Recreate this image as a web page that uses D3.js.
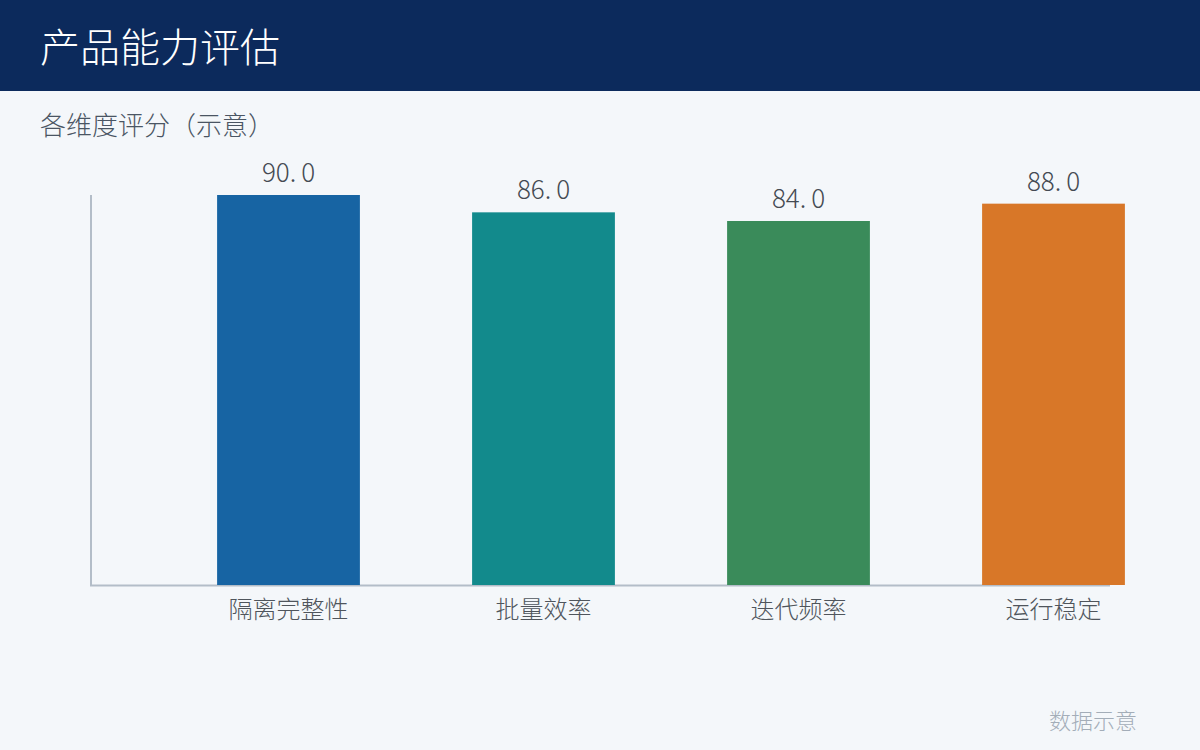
<!DOCTYPE html>
<html>
<head>
<meta charset="utf-8">
<script src="https://cdn.jsdelivr.net/npm/d3@7"></script>
<style>
  body { margin: 0; background: #f4f7fa; }
  svg { display: block; font-family: "Noto Sans CJK SC", sans-serif; font-weight: 300; }
</style>
</head>
<body>
<svg id="chart"></svg>
<script>
// data
var categories = ["隔离完整性", "批量效率", "迭代频率", "运行稳定"]
var scores = [90.0, 86.0, 84.0, 88.0]
var barColors = ["#1764a3", "#128a8c", "#3a8b5a", "#d87728"]

var width = 1200
var height = 750

var svg = d3.select("#chart")
    .attr("width", width)
    .attr("height", height)

svg.append("rect")
    .attr("width", width)
    .attr("height", height)
    .attr("fill", "#f4f7fa")

// header
svg.append("rect")
    .attr("width", width)
    .attr("height", 91)
    .attr("fill", "#0c2a5c")

svg.append("text")
    .attr("x", 40)
    .attr("y", 62)
    .attr("fill", "#ffffff")
    .attr("font-size", 40)
    .text("产品能力评估")

svg.append("text")
    .attr("x", 40)
    .attr("y", 135)
    .attr("fill", "#4a5563")
    .attr("font-size", 26)
    .text("各维度评分（示意）")

var x = d3.scaleBand()
    .domain(categories)
    .range([161, 1181])
    .paddingInner(0.44)
    .paddingOuter(0.22)

var y = d3.scaleLinear()
    .domain([0, d3.max(scores)])
    .range([585, 195])

// axes lines
svg.append("line")
    .attr("x1", 91).attr("x2", 91)
    .attr("y1", y(d3.max(scores))).attr("y2", 586)
    .attr("stroke", "#b3bdc8")
    .attr("stroke-width", 2)

svg.append("line")
    .attr("x1", 90).attr("x2", 1110)
    .attr("y1", 585.5).attr("y2", 585.5)
    .attr("stroke", "#b3bdc8")
    .attr("stroke-width", 2)

var bars = svg.append("g")
    .selectAll("rect")
    .data(scores)
    .enter()
    .append("rect")
    .attr("x", (d, i) => x(categories[i]))
    .attr("y", d => y(d))
    .attr("width", x.bandwidth())
    .attr("height", d => y(0) - y(d))
    .attr("fill", (d, i) => barColors[i])

// value labels, the "." gets a little extra room like the original
var vals = svg.append("g")
    .selectAll("text")
    .data(scores)
    .enter()
    .append("text")
    .attr("x", (d, i) => x(categories[i]) + x.bandwidth() / 2)
    .attr("y", d => y(d) - 13)
    .attr("text-anchor", "middle")
    .attr("fill", "#444a52")
    .attr("font-size", 26)

vals.append("tspan").text(d => d.toFixed(1).split(".")[0] + ".")
vals.append("tspan").attr("dx", 5).text(d => d.toFixed(1).split(".")[1])

svg.append("g")
    .selectAll("text")
    .data(categories)
    .enter()
    .append("text")
    .attr("x", d => x(d) + x.bandwidth() / 2)
    .attr("y", 618)
    .attr("text-anchor", "middle")
    .attr("fill", "#4f555c")
    .attr("font-size", 24)
    .text(d => d)

svg.append("text")
    .attr("x", 1137)
    .attr("y", 729)
    .attr("text-anchor", "end")
    .attr("fill", "#a3adb8")
    .attr("font-size", 22)
    .text("数据示意")
</script>
</body>
</html>
